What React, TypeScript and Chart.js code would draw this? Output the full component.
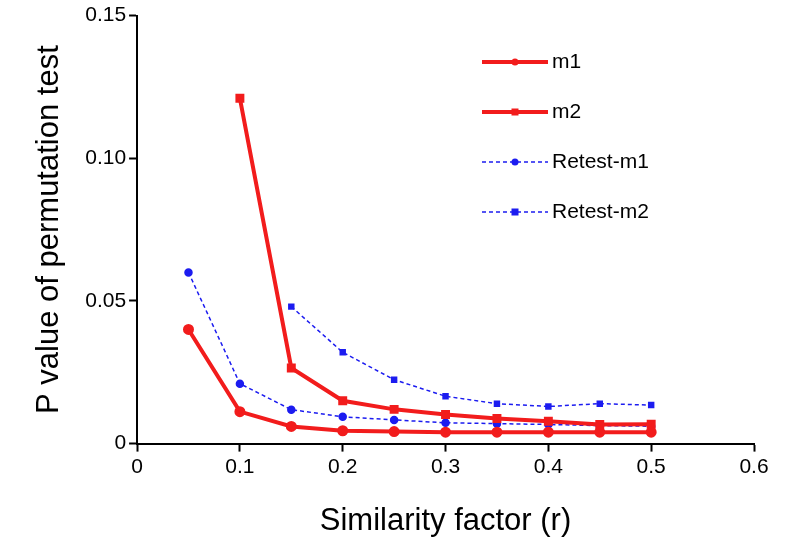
import { useEffect, useRef } from 'react';
import { Chart, registerables } from 'chart.js';

Chart.register(...registerables);

const xValues = [0.05, 0.1, 0.15, 0.2, 0.25, 0.3, 0.35, 0.4, 0.45, 0.5];
const m1 = [0.04, 0.0112, 0.006, 0.0045, 0.0042, 0.004, 0.004, 0.004, 0.004, 0.004];
const m2 = [null, 0.121, 0.0265, 0.015, 0.012, 0.0102, 0.0088, 0.0078, 0.0067, 0.0068];
const retestM1 = [0.06, 0.021, 0.0119, 0.0094, 0.0083, 0.0073, 0.007, 0.0067, 0.0063, 0.0061];
const retestM2 = [null, null, 0.048, 0.032, 0.0224, 0.0166, 0.014, 0.013, 0.014, 0.0135];

const FONT = 'Liberation Sans, Arial, sans-serif';

const toPoints = (ys: (number | null)[]) =>
  xValues.map((x, i) => ({ x, y: ys[i] })).filter(p => p.y !== null) as { x: number; y: number }[];

const legendPlugin = {
  id: 'innerLegend',
  afterDraw(chart: Chart) {
    const ctx = chart.ctx;
    const left = 482;
    let y = 62;
    ctx.save();
    chart.data.datasets.forEach((ds: any) => {
      ctx.strokeStyle = ds.borderColor;
      ctx.fillStyle = ds.borderColor;
      ctx.lineWidth = ds.borderWidth;
      ctx.setLineDash(ds.borderDash || []);
      ctx.beginPath();
      ctx.moveTo(left, y);
      ctx.lineTo(left + 66, y);
      ctx.stroke();
      ctx.setLineDash([]);
      const cx = left + 33;
      if (ds.pointStyle === 'rect') ctx.fillRect(cx - 3.5, y - 3.5, 7, 7);
      else { ctx.beginPath(); ctx.arc(cx, y, 3.5, 0, Math.PI * 2); ctx.fill(); }
      ctx.fillStyle = '#000';
      ctx.font = `21px ${FONT}`;
      ctx.textBaseline = 'middle';
      ctx.fillText(ds.label, left + 70, y);
      y += 50;
    });
    ctx.restore();
  },
};

export default function App() {
  const canvasRef = useRef<HTMLCanvasElement>(null);

  useEffect(() => {
    document.body.style.margin = '0';
    if (!canvasRef.current) return;
    const mk = (label: string, ys: (number | null)[], color: string, style: string, dashed: boolean) => ({
      label,
      data: toPoints(ys),
      borderColor: color,
      backgroundColor: color,
      borderWidth: dashed ? 1.5 : 4,
      borderDash: dashed ? [4, 3] : [],
      pointStyle: style,
      pointRadius: 3.5,
      showLine: true,
      tension: 0,
    });
    const chart = new Chart(canvasRef.current, {
      type: 'scatter',
      data: {
        datasets: [
          mk('m1', m1, '#f21c1c', 'circle', false),
          mk('m2', m2, '#f21c1c', 'rect', false),
          mk('Retest-m1', retestM1, '#1c1cf0', 'circle', true),
          mk('Retest-m2', retestM2, '#1c1cf0', 'rect', true),
        ] as any,
      },
      options: {
        animation: false,
        responsive: false,
        layout: { padding: { top: 10, right: 34, bottom: 2, left: 27 } },
        plugins: { legend: { display: false }, tooltip: { enabled: false } },
        scales: {
          x: {
            type: 'linear', min: 0, max: 0.6,
            border: { color: '#000', width: 2 },
            grid: { drawOnChartArea: false, tickLength: 8, tickColor: '#000', tickWidth: 2 },
            ticks: { stepSize: 0.1, color: '#000', font: { size: 21, family: FONT }, callback: (v) => String(Math.round(Number(v) * 10) / 10) },
            title: { display: true, text: 'Similarity factor (r)', color: '#000', font: { size: 31, family: FONT }, padding: { top: 20 } },
          },
          y: {
            min: 0, max: 0.15,
            border: { color: '#000', width: 2 },
            grid: { drawOnChartArea: false, tickLength: 8, tickColor: '#000', tickWidth: 2 },
            ticks: { stepSize: 0.05, color: '#000', font: { size: 21, family: FONT }, callback: (v) => { const n = Math.round(Number(v) * 100) / 100; return n === 0 ? '0' : n.toFixed(2); } },
            title: { display: true, text: 'P value of permutation test', color: '#000', font: { size: 31, family: FONT }, padding: { bottom: 14 } },
          },
        },
      },
      plugins: [legendPlugin],
    });
    return () => { chart.destroy(); };
  }, []);

  return (
    <div style={{ width: 788, height: 546, background: '#fff' }}>
      <canvas ref={canvasRef} width={788} height={546} />
    </div>
  );
}
